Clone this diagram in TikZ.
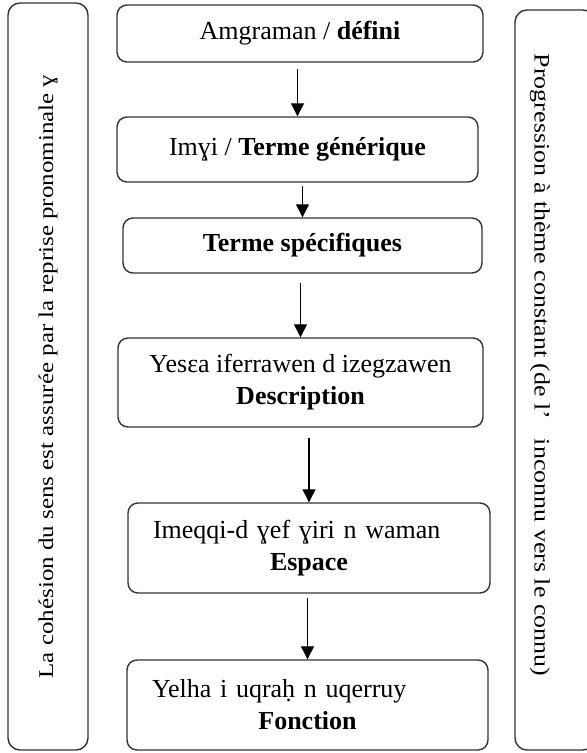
\documentclass[tikz,border=0pt]{standalone}
\usepackage{fontspec}
\setmainfont{Liberation Serif}
\usetikzlibrary{arrows.meta}

\begin{document}
\begin{tikzpicture}[>={Triangle[length=13bp,width=13bp]},line join=bevel,
  etape/.style={draw=black!80,line width=1.4bp,rounded corners=10bp,font=\fontsize{26bp}{32bp}\selectfont,inner xsep=25bp},
  cote/.style={draw=black!80,line width=1.4bp,rounded corners=12bp},
  fleche/.style={->,line width=1.3bp}]
\useasboundingbox (0bp,0bp) rectangle (587bp,753bp);
%%
\node (b1) at (300bp,719.5bp) [etape,minimum width=366bp,minimum height=57bp] {Amgraman / \textbf{défini}};
  \node (b2) at (297.5bp,603.5bp) [etape,minimum width=361bp,minimum height=65bp] {Imɣi / \textbf{Terme générique}};
  \node (b3) at (302.5bp,507.5bp) [etape,minimum width=359bp,minimum height=55bp] {\textbf{Terme spécifiques}};
  \node (b4) at (300.5bp,370.5bp) [etape,minimum width=365bp,minimum height=89bp,align=center] {Yesɛa iferrawen d izegzawen\\\textbf{Description}};
  \node (b5) at (309bp,205bp) [etape,minimum width=362bp,minimum height=90bp,text width=312bp,align=center] {\makebox[\linewidth][l]{Imeqqi-d ɣef ɣiri n waman}\\\textbf{Espace}};
  \node (b6) at (307.5bp,48bp) [etape,minimum width=361bp,minimum height=90bp,text width=311bp,align=center] {\makebox[\linewidth][l]{Yelha i uqraḥ n uqerruy}\\\textbf{Fonction}};
  \node (gauche) at (48bp,376.5bp) [cote,minimum width=747bp,minimum height=80bp,rotate=90,font=\fontsize{21bp}{25bp}\selectfont] {\scalebox{1.19}[1]{La cohésion du sens est assurée par la reprise pronominale ɣ}};
  \node (droite) at (555bp,373bp) [cote,minimum width=740bp,minimum height=80bp,rotate=-90] {};
  \node (progression) at (540bp,388bp) [rotate=-90,font=\fontsize{22bp}{26bp}\selectfont] {\scalebox{1.18}[1]{Progression à thème constant (de l’\hspace{.5em} inconnu vers le connu)}};
  \draw [fleche] ([yshift=-6bp]b1.south -| b2.north) -- (b2.north);
  \draw [fleche] ([yshift=-3bp]b2.south -| b3.north) -- (b3.north);
  \draw [fleche] ([yshift=-9bp]b3.south -| b4.north) -- (b4.north);
  \draw [fleche] ([yshift=-10bp]b4.south -| b5.north) -- (b5.north);
  \draw [fleche] ([yshift=-4bp]b5.south -| b6.north) -- (b6.north);
%
\end{tikzpicture}
\end{document}
